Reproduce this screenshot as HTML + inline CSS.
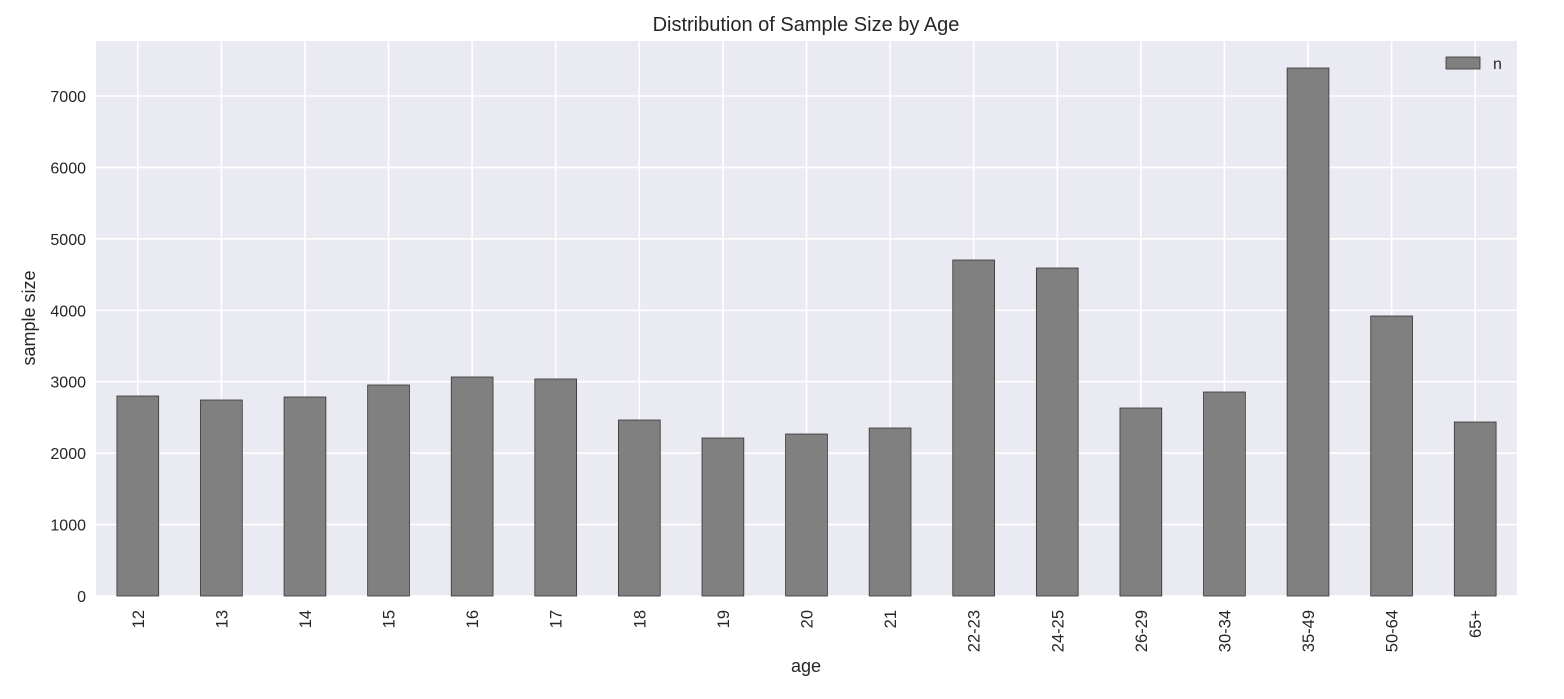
<!DOCTYPE html>
<html><head><meta charset="utf-8"><style>
body{margin:0;background:#fff;font-family:"Liberation Sans",sans-serif;}
svg text{font-family:"Liberation Sans",sans-serif;fill:#262626;}
</style></head><body>
<svg id="chart" width="1564" height="694">
<rect x="96" y="41" width="1421" height="555" fill="#eaeaf2"/>
<g id="grid"></g><g id="bars"></g><g id="ticks"></g>
<text x="806" y="31" text-anchor="middle" font-size="20">Distribution of Sample Size by Age</text>
<text x="806" y="672" text-anchor="middle" font-size="18">age</text>
<text transform="translate(35,318) rotate(-90)" text-anchor="middle" font-size="18">sample size</text>
<g>
<rect x="1446" y="57" width="34" height="12" fill="#808080" stroke="#333" stroke-width="0.8"/>
<text x="1493" y="69" font-size="16">n</text>
</g>
</svg>
<script>
const categories=["12","13","14","15","16","17","18","19","20","21","22-23","24-25","26-29","30-34","35-49","50-64","65+"];
const values=[2800,2744,2786,2954,3066,3038,2464,2212,2268,2352,4704,4592,2632,2856,7392,3920,2436];
const yTicks=[0,1000,2000,3000,4000,5000,6000,7000];
const NS="http://www.w3.org/2000/svg";
const x0=96,x1=1517,y0=596,yPerUnit=500/7000;
const bw=(x1-x0)/categories.length;
const yS=v=>y0-v*yPerUnit;
const xC=i=>x0+bw*(i+0.5);
function mk(t,a,p){const e=document.createElementNS(NS,t);for(const k in a)e.setAttribute(k,a[k]);p.appendChild(e);return e;}
const grid=document.getElementById('grid'),bars=document.getElementById('bars'),ticks=document.getElementById('ticks');
yTicks.forEach(v=>{
 const l=mk('line',{x1:x0,x2:x1,y1:yS(v),y2:yS(v),stroke:'#fff','stroke-width':1.6},grid);
 
 
 const t=mk('text',{x:86,y:yS(v)+6,'text-anchor':'end','font-size':16},ticks);
 t.textContent=v;
 
 
});
categories.forEach((c,i)=>{
 const cx=xC(i);
 const g=mk('line',{x1:cx,x2:cx,y1:41,y2:596,stroke:'#fff','stroke-width':1.6},grid);
 
 
 const w=bw*0.5;
 const r=mk('rect',{x:cx-w/2,y:yS(values[i]),width:w,height:y0-yS(values[i]),fill:'#808080',stroke:'#333','stroke-width':0.8},bars);
 
 
 const t=mk('text',{transform:`translate(${cx+6},${610}) rotate(-90)`,'text-anchor':'end','font-size':16.5},ticks);
 t.textContent=c;
 
 
});
</script>
</body></html>
